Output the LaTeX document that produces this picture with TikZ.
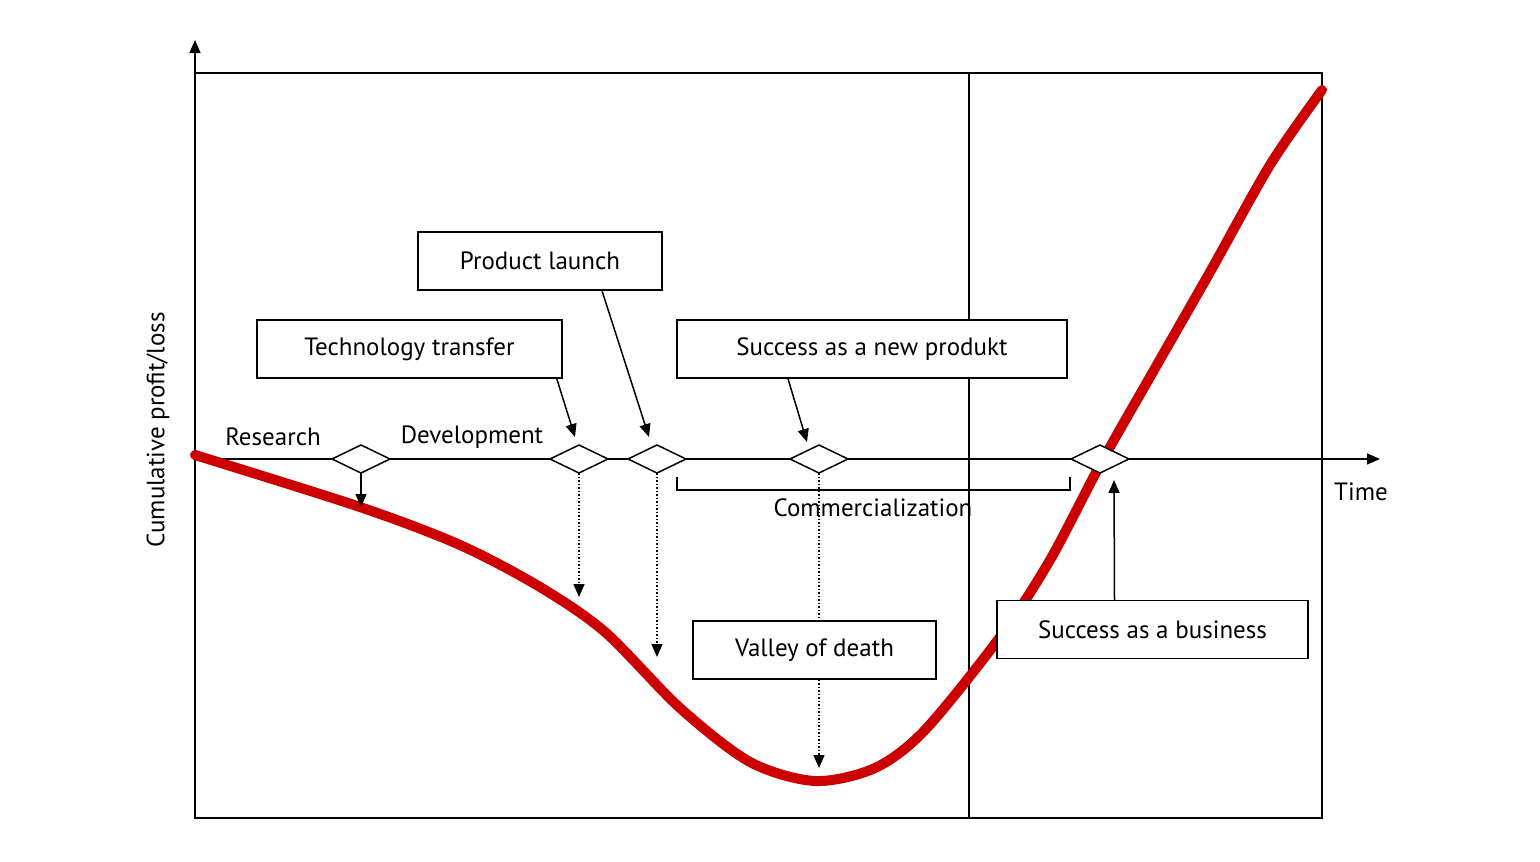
\documentclass[tikz,border=0pt]{standalone}
\usepackage{fontspec}
\setmainfont{PT Sans}
\usetikzlibrary{arrows.meta}
\begin{document}
\begin{tikzpicture}[x=1pt,y=-1pt,
  lbl/.style={font=\fontsize{25}{28}\selectfont,inner sep=0pt},
  box/.style={draw,line width=1.5pt,fill=white,minimum height=58pt,font=\fontsize{25}{28}\selectfont},
  dia/.style={draw,line width=1.5pt,fill=white},
  arr/.style={line width=1.5pt,-{Triangle[length=13pt,width=11pt]}},
  dot/.style={line width=1.5pt,dotted,-{Triangle[length=13pt,width=11pt]}}]
\useasboundingbox (0,0) rectangle (1540,862);
\draw[line width=1.5pt] (195,73) rectangle (1322,818);
\draw[line width=1.5pt] (969,73) -- (969,818);
\coordinate (yb) at (195,818); \coordinate (yt) at (195,40);
\draw[arr] (yb) -- (yt);
\coordinate (xl) at (195,459); \coordinate (xr) at (1380,459);
\draw[arr] (xl) -- (xr);
\node[lbl] (time) at (1361,492) {Time};
\node[lbl,rotate=90] (ylab) at (158,430) {Cumulative profit/loss};
\node[lbl] (res) at (273,437) {Research};
\node[lbl] (dev) at (472,437) {Development};
% red curve
\draw[red!80!black,line width=10pt,line cap=round] plot[smooth,tension=0.5] coordinates {
(195,455) (360,507) (460,545) (540,587) (605,632) (680,708) (750,762) (815,781) (875,768) (925,730) (1000,637) (1050,560) (1100,465) (1150,377) (1210,272) (1270,165) (1322,90)};
% bracket
\coordinate (b1) at (677,477); \coordinate (b2) at (677,490);
\coordinate (b3) at (1070,490); \coordinate (b4) at (1070,477);
\draw[line width=1.5pt] (b1) -- (b2) -- (b3) -- (b4);
\node[lbl] (comm) at (873,508) {Commercialization};
% diamonds
\foreach \n/\x in {d1/361,d2/579,d3/657,d4/819,d5/1100}
  \draw[dia] (\x-29,459) -- (\x,445) -- (\x+29,459) -- (\x,473) -- cycle coordinate (\n) at (\x,459);
\coordinate (d1b) at (361,473); \coordinate (d2b) at (579,473);
\coordinate (d3b) at (657,473); \coordinate (d4b) at (819,473);
\coordinate (d1e) at (361,507); \coordinate (d2e) at (579,597);
\coordinate (d3e) at (657,657); \coordinate (d4e) at (819,768);
\draw[arr] (d1b) -- (d1e);
\draw[dot] (d2b) -- (d2e);
\draw[dot] (d3b) -- (d3e);
\draw[dot] (d4b) -- (d4e);
% boxes
\node[box,minimum width=244pt] (pl) at (540,261) {Product launch};
\node[box,minimum width=305pt] (tt) at (409.5,349) {Technology transfer};
\node[box,minimum width=390pt] (sn) at (872,349) {Success as a new produkt};
\node[box,minimum width=243pt] (vd) at (814.5,650) {Valley of death};
\node[box,minimum width=311pt] (sb) at (1152.5,629.5) {Success as a business};
\coordinate (a1) at (575,437); \coordinate (a2) at (649,437);
\coordinate (a3) at (807,442); \coordinate (a5) at (1114,480);
\draw[arr] (tt.south east) ++(-6,0) coordinate (s1) -- (a1);
\draw[arr] (pl.south) ++(62,0) coordinate (s2) -- (a2);
\draw[arr] (sn.south) ++(-84,0) coordinate (s3) -- (a3);
\draw[arr] (sb.north) ++(-38,0) coordinate (s5) -- (a5);
\end{tikzpicture}
\end{document}
